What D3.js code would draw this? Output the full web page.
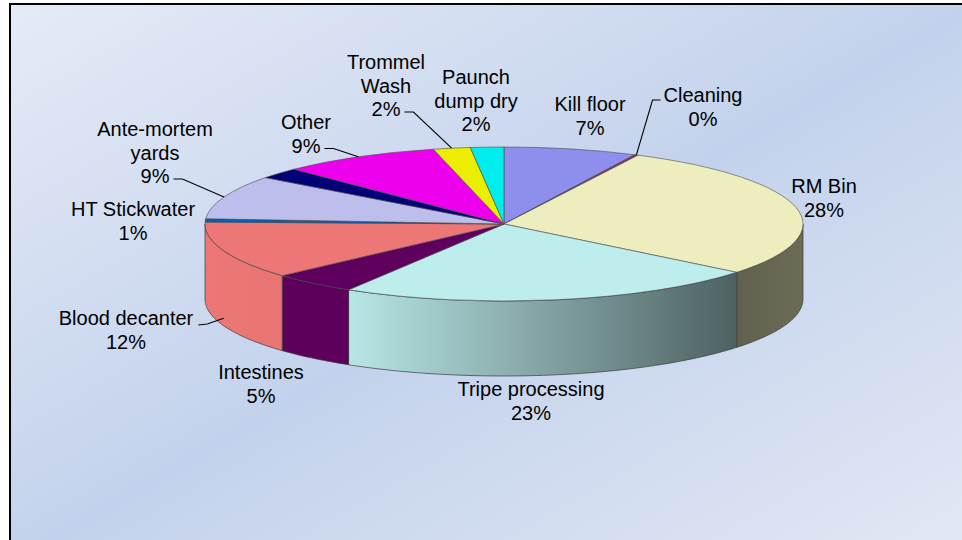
<!DOCTYPE html>
<html>
<head>
<meta charset="utf-8">
<script src="https://cdn.jsdelivr.net/npm/d3@7"></script>
<style>
body { margin: 0; background: #fff; }
svg text { font-family: "Liberation Sans", Arial, sans-serif; font-size: 20px; fill: #000; }
</style>
</head>
<body>
<svg id="chart" width="962" height="540"></svg>
<script>
// slice data, clockwise from 12 o'clock
const categories = ["Kill floor", "Cleaning", "RM Bin", "Tripe processing", "Intestines",
  "Blood decanter", "HT Stickwater", "Ante-mortem yards", "", "Other", "Trommel Wash", "Paunch dump dry"];
const shares = [7.2, 0.2, 28.4, 22.9, 4.6, 12.1, 0.7, 9.2, 2.3, 8.6, 2.0, 1.8];
const colors = ["#9999ff", "#993366", "#ffffcc", "#ccffff", "#660066", "#ff8080",
  "#0066cc", "#ccccff", "#000080", "#ff00ff", "#ffff00", "#00ffff"];

// where each label sits (centre x, centre of first line) and how it wraps
const labelLayout = [
  {name: "Kill floor", lines: ["Kill floor"], x: 590, y: 104},
  {name: "Cleaning", lines: ["Cleaning"], x: 703, y: 95, leader: "leftFirst"},
  {name: "RM Bin", lines: ["RM Bin"], x: 824, y: 186},
  {name: "Tripe processing", lines: ["Tripe processing"], x: 531, y: 389},
  {name: "Intestines", lines: ["Intestines"], x: 261, y: 372},
  {name: "Blood decanter", lines: ["Blood decanter"], x: 126, y: 318, leader: "rightFirst"},
  {name: "HT Stickwater", lines: ["HT Stickwater"], x: 133, y: 209},
  {name: "Ante-mortem yards", lines: ["Ante-mortem", "yards"], x: 155, y: 129, leader: "rightLast"},
  {name: "Other", lines: ["Other"], x: 306, y: 122, leader: "rightLast"},
  {name: "Trommel Wash", lines: ["Trommel", "Wash"], x: 386, y: 62, leader: "rightLast"},
  {name: "Paunch dump dry", lines: ["Paunch", "dump dry"], x: 476, y: 77}
];

const cx = 504, cy = 224, rx = 299, ry = 77, depth = 75;
const lineGap = 23.5;

const svg = d3.select("#chart");
const defs = svg.append("defs");

// chart area background
const bg = defs.append("linearGradient").attr("id", "bg")
  .attr("x1", 0).attr("y1", 0).attr("x2", 1).attr("y2", 1);
bg.append("stop").attr("offset", 0).attr("stop-color", "#e5ebf7");
bg.append("stop").attr("offset", 0.5).attr("stop-color", "#c3d2ec");
bg.append("stop").attr("offset", 1).attr("stop-color", "#e3e9f5");

svg.append("rect")
  .attr("x", 10).attr("y", 4)
  .attr("width", 970).attr("height", 560)
  .attr("fill", "url(#bg)")
  .attr("stroke", "#000").attr("stroke-width", 2);

const total = d3.sum(shares);
const slices = categories.map((c, i) => ({name: c, value: shares[i], color: colors[i]}));
const arcs = d3.pie().sort(null).value(d => d.value)(slices);

const px = t => cx + rx * Math.sin(t);
const py = t => cy - ry * Math.cos(t);

function shade(c, f) {
  const r = d3.rgb(c);
  return d3.rgb(r.r * f, r.g * f, r.b * f).formatHex();
}

// lighting of the outer wall, by angle in degrees
const wallLight = d3.scaleLinear().domain([90, 130, 210, 270]).range([0.42, 0.38, 0.9, 0.93]).clamp(true);
const deg = t => t * 180 / Math.PI;

// outer walls (front half only)
const gWalls = svg.append("g");
arcs.forEach((a, i) => {
  const a0 = Math.max(a.startAngle, Math.PI / 2);
  const a1 = Math.min(a.endAngle, Math.PI * 1.5);
  if (a1 <= a0) return;
  const n = Math.max(2, Math.ceil((a1 - a0) / 0.02));
  const ts = d3.range(n + 1).map(k => a0 + (a1 - a0) * k / n);
  const top = ts.map(t => [px(t), py(t)]);
  const bot = ts.slice().reverse().map(t => [px(t), py(t) + depth]);

  const g = defs.append("linearGradient").attr("id", "wall" + i)
    .attr("gradientUnits", "userSpaceOnUse")
    .attr("x1", px(a0)).attr("x2", px(a1) + 0.01).attr("y1", 0).attr("y2", 0);
  g.append("stop").attr("offset", 0).attr("stop-color", shade(a.data.color, wallLight(deg(a0))));
  g.append("stop").attr("offset", 1).attr("stop-color", shade(a.data.color, wallLight(deg(a1))));

  gWalls.append("path")
    .attr("d", d3.line()(top.concat(bot)) + "Z")
    .attr("fill", `url(#wall${i})`)
    .attr("stroke", "#3a3a3a").attr("stroke-width", 0.7)
    .attr("stroke-linejoin", "round");
});

// top faces
function topPath(a) {
  const large = a.endAngle - a.startAngle > Math.PI ? 1 : 0;
  return `M${cx},${cy}L${px(a.startAngle)},${py(a.startAngle)}` +
    `A${rx},${ry} 0 ${large} 1 ${px(a.endAngle)},${py(a.endAngle)}Z`;
}

svg.append("g").selectAll("path")
  .data(arcs)
  .join("path")
  .attr("d", topPath)
  .attr("fill", d => shade(d.data.color, 0.93))
  .attr("stroke", "#4a4a4a").attr("stroke-width", 0.6)
  .attr("stroke-linejoin", "round");

// labels
const gLabels = svg.append("g");
labelLayout.forEach(l => {
  const a = arcs.find(d => d.data.name === l.name);
  const pct = Math.round(a.data.value / total * 100) + "%";
  const lines = l.lines.concat([pct]);
  const t = gLabels.append("text").attr("text-anchor", "middle");
  const spans = lines.map((s, k) => t.append("tspan")
    .attr("x", l.x)
    .attr("y", l.y + k * lineGap + 7.2)
    .text(s));

  if (!l.leader) return;
  const mid = (a.startAngle + a.endAngle) / 2;
  let ex = px(mid), ey = py(mid);
  if (Math.cos(mid) < 0) ey += depth * 0.9;

  let pts;
  if (l.leader === "rightLast") {
    const k = lines.length - 1;
    const w = spans[k].node().getComputedTextLength();
    const sx = l.x + w / 2 + 4, sy = l.y + k * lineGap + 3;
    pts = [[sx, sy], [sx + 9, sy], [ex, ey]];
  } else if (l.leader === "rightFirst") {
    const w = spans[0].node().getComputedTextLength();
    const sx = l.x + w / 2 + 5, sy = l.y + 7;
    pts = [[sx, sy], [sx + 9, sy - 1], [ex, ey]];
  } else {
    const w = spans[0].node().getComputedTextLength();
    const sx = l.x - w / 2 - 3, sy = l.y + 5;
    pts = [[sx, sy], [sx - 8, sy], [ex, ey]];
  }
  gLabels.append("path")
    .attr("d", d3.line()(pts))
    .attr("fill", "none")
    .attr("stroke", "#000").attr("stroke-width", 1.1);
});
</script>
</body>
</html>
